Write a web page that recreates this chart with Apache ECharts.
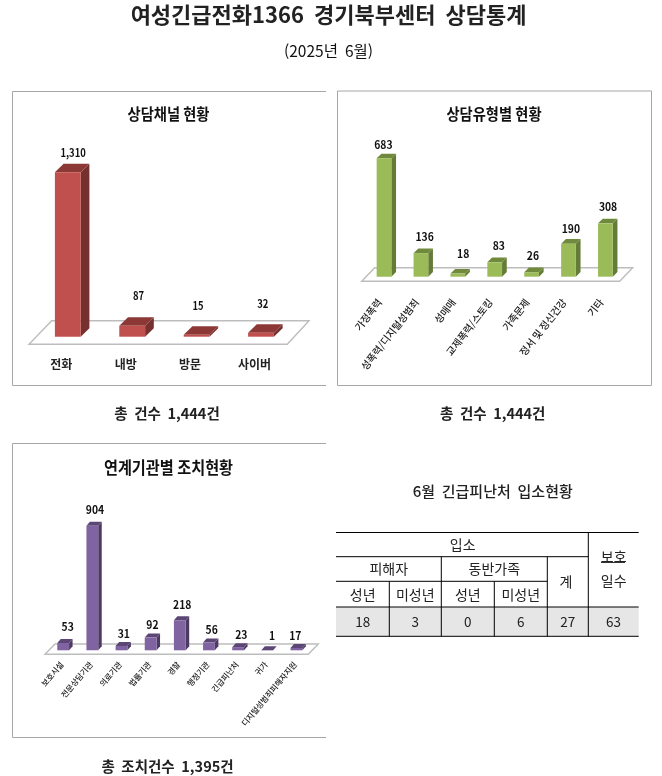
<!DOCTYPE html>
<html lang="ko"><head><meta charset="utf-8">
<style>html,body{margin:0;padding:0;background:#fff}#c{width:662px;height:776px}</style>
<script src="https://cdn.jsdelivr.net/npm/echarts@6/dist/echarts.min.js"></script>
</head><body><div id="c"></div>
<script>
// ---- data ----
const channelCats = ['전화','내방','방문','사이버'];
const channelVals = [1310,87,15,32];
const typeCats = ['가정폭력','성폭력/디지털성범죄','성매매','교제폭력/스토킹','가족문제','정서 및 정신건강','기타'];
const typeVals = [683,136,18,83,26,190,308];
const linkCats = ['보호시설','전문상담기관','의료기관','법률기관','경찰','행정기관','긴급피난처','귀가','디지털성범죄피해자지원'];
const linkVals = [53,904,31,92,218,56,23,1,17];
const shelterHeaders = ['입소','피해자','동반가족','계','보호','일수','성년','미성년','성년','미성년'];
const shelterVals = [18,3,0,6,27,63];
const pageTitle = '여성긴급전화1366  경기북부센터  상담통계';
const pageSub = '(2025년  6월)';
const chartTitles = ['상담채널 현황','상담유형별 현황','연계기관별 조치현황'];
const captions = ['총  건수  1,444건','총  건수  1,444건','총  조치건수  1,395건'];
const shelterTitle = '6월  긴급피난처  입소현황';

// ---- styles / layout ----
const FONT = '"Noto Sans CJK KR","Noto Sans",sans-serif';
const panels = [
  {cats:channelCats, vals:channelVals, left:35.6, width:257.6, bottom:336.7, top:161, max:1400, w:25.8, dx:8.7, dy:8.5,
   face:'#c0504d', topc:'#8c3836', side:'#773030', floor:[-6.6,-5.9,16.1,15.8,7.6,16],
   lift:[11.5,21.3,21,20.2], nudge:[1,2,-3,-2.5], vf:11.5, vs:.82, rot:0, lf:12, lm:22, lpad:[0,13,0,0]},
  {cats:typeCats, vals:typeVals, left:365.55, width:258.3, bottom:276.7, top:155.4, max:700, w:14.7, dx:4.7, dy:4.7,
   face:'#9bbb59', topc:'#708a3d', side:'#657c38', floor:[-3.85,-4.15,9.15,8.85,4.6,9],
   lift:[8.6,11.7,15,12,11.8,10,11.6], nudge:[-3,1.4,3,1.7,-1,0,0.3], vf:11.5, vs:.9, rot:52, lf:10, lm:18, lpad:[0,7,0,0]},
  {cats:linkCats, vals:linkVals, left:48.6, width:262.4, bottom:650.3, top:523.5, max:920, w:11.8, dx:3.5, dy:4,
   face:'#8064a2', topc:'#5c4676', side:'#4d3a63', floor:[-3.6,-2.7,6.4,7.3,4,6.3],
   lift:[12.3,12.4,8.3,8.9,12,9.3,8.4,11,8.7], nudge:[2.7,.9,.5,0,.7,1,1.4,3,-2.9], vf:11.5, vs:.9, rot:50, lf:8, lm:11, lpad:[0,2,0,0]}
];
const GREY='#a6a6a6';

function barRender(p){
  return function(params,api){
    const i=api.value(0), v=api.value(1);
    const b=api.coord([i,0]), t=api.coord([i,v]);
    const x0=b[0]-p.w/2, x1=b[0]+p.w/2, yb=b[1], yt=t[1];
    return {type:'group',children:[
      {type:'polygon',shape:{points:[[x1,yb],[x1+p.dx,yb-p.dy],[x1+p.dx,yt-p.dy],[x1,yt]]},style:{fill:p.side}},
      {type:'polygon',shape:{points:[[x0,yt],[x1,yt],[x1+p.dx,yt-p.dy],[x0+p.dx,yt-p.dy]]},style:{fill:p.topc}},
      {type:'rect',shape:{x:x0,y:yt,width:p.w,height:yb-yt},style:{fill:p.face}},
      {type:'text',x:b[0]+p.dx/2+p.nudge[i],y:yt-p.dy-p.lift[i],scaleX:p.vs,
       style:{text:v.toLocaleString('en-US'),fill:'#111',font:'bold '+p.vf+'px '+FONT,textAlign:'center',textVerticalAlign:'middle'}}
    ]};
  };
}
function floorRender(p){
  return function(params,api){
    const c=params.coordSys, L=c.x, R=c.x+c.width, B=c.y+c.height, f=p.floor;
    return {type:'polygon',shape:{points:[[L+f[0],B+f[4]],[R+f[1],B+f[4]],[R+f[3],B-f[5]],[L+f[2],B-f[5]]]},
      style:{fill:'#fff',stroke:'#bdbdbd',lineWidth:1.4}};
  };
}

const grids=[],xAxes=[],yAxes=[],series=[];
panels.forEach((p,k)=>{
  grids.push({left:p.left,width:p.width,top:p.top,height:p.bottom-p.top,containLabel:false});
  xAxes.push({type:'category',gridIndex:k,data:p.cats,axisLine:{show:false},axisTick:{show:false},splitLine:{show:false},
    axisLabel:{interval:0,rotate:p.rot,margin:p.lm,color:'#222',fontFamily:FONT,fontSize:p.lf,fontWeight:k===0?'bold':500,padding:p.lpad,hideOverlap:false}});
  yAxes.push({type:'value',gridIndex:k,min:0,max:p.max,show:false,splitLine:{show:false}});
  series.push({type:'custom',xAxisIndex:k,yAxisIndex:k,z:1,silent:true,data:[0],renderItem:floorRender(p),encode:{x:-1,y:-1}});
  series.push({type:'custom',xAxisIndex:k,yAxisIndex:k,z:2,silent:true,
    data:p.vals.map((v,i)=>[i,v]),renderItem:barRender(p),encode:{x:0,y:1}});
});

// ---- page furniture ----
const g=[];
function txt(s,x,y,size,weight,sx,color){
  g.push({type:'text',x:x,y:y,scaleX:sx||1,silent:true,z:5,
    style:{text:s,fill:color||'#111',font:(weight||'normal')+' '+size+'px '+FONT,textAlign:'center',textVerticalAlign:'middle'}});
}
function line(pts,color,w){g.push({type:'polyline',silent:true,z:4,shape:{points:pts},style:{stroke:color,lineWidth:w,fill:null}});}

txt(pageTitle,328.5,14.5,22,'bold',1,'#222');
txt(pageSub,328.5,51,15.5,'normal');
line([[326,91.5],[12.5,91.5],[12.5,385.5],[326,385.5]],GREY,1);
line([[337.5,91],[651.5,91],[651.5,385.5],[337.5,385.5],[337.5,91]],GREY,1);
line([[326,443.5],[12.5,443.5],[12.5,737.5],[326,737.5]],GREY,1);
txt(chartTitles[0],168.5,114,15.5,'bold',.92);
txt(chartTitles[1],494,114,15.5,'bold',.92);
txt(chartTitles[2],168.5,468,16.5,'bold',.92);
txt(captions[0],167,413,14.5,'bold',1,'#222');
txt(captions[1],492.7,413,14.5,'bold',1,'#222');
txt(captions[2],167.5,766.5,14.5,'bold',1,'#222');
txt(shelterTitle,492.7,491.7,15,'500',1,'#222');

// shelter table
const T={l:336,r:638.7,y:[532.5,556.7,581.3,607,636.3],x:[389.3,441.3,494.3,547.3,588.3]};
g.push({type:'rect',silent:true,z:3,shape:{x:T.l,y:T.y[3],width:T.r-T.l,height:T.y[4]-T.y[3]},style:{fill:'#e6e6e6'}});
line([[T.l,T.y[0]],[T.r,T.y[0]]],'#000',1);
line([[T.l,T.y[1]],[T.x[4],T.y[1]]],'#000',1);
line([[T.l,T.y[2]],[T.x[3],T.y[2]]],'#000',1);
line([[T.l,T.y[3]],[T.r,T.y[3]]],'#000',1);
line([[T.l,T.y[4]],[T.r,T.y[4]]],'#000',1);
line([[T.x[0],T.y[2]],[T.x[0],T.y[4]]],'#000',1);
line([[T.x[1],T.y[1]],[T.x[1],T.y[4]]],'#000',1);
line([[T.x[2],T.y[2]],[T.x[2],T.y[4]]],'#000',1);
line([[T.x[3],T.y[1]],[T.x[3],T.y[4]]],'#000',1);
line([[T.x[4],T.y[0]],[T.x[4],T.y[4]]],'#000',1);
line([[601,562.5],[625,562.5]],'#333',1);
const hx=[462.7,388.7,494.3,566,613.7,613.7,362.7,415.3,467.8,520.8];
const hy=[544.7,569,569,581.7,557,581,595,595,595,595];
shelterHeaders.forEach((s,i)=>txt(s,hx[i],hy[i],14,'normal',1,'#222'));
const cx=[362.7,415.3,467.8,520.8,567.8,613.5];
shelterVals.forEach((v,i)=>txt(String(v),cx[i],621.7,13.5,'normal',1,'#222'));

const chart=echarts.init(document.getElementById('c'));
chart.setOption({animation:false,backgroundColor:'#fff',grid:grids,xAxis:xAxes,yAxis:yAxes,series:series,graphic:{elements:g},tooltip:{show:false}});
</script></body></html>
